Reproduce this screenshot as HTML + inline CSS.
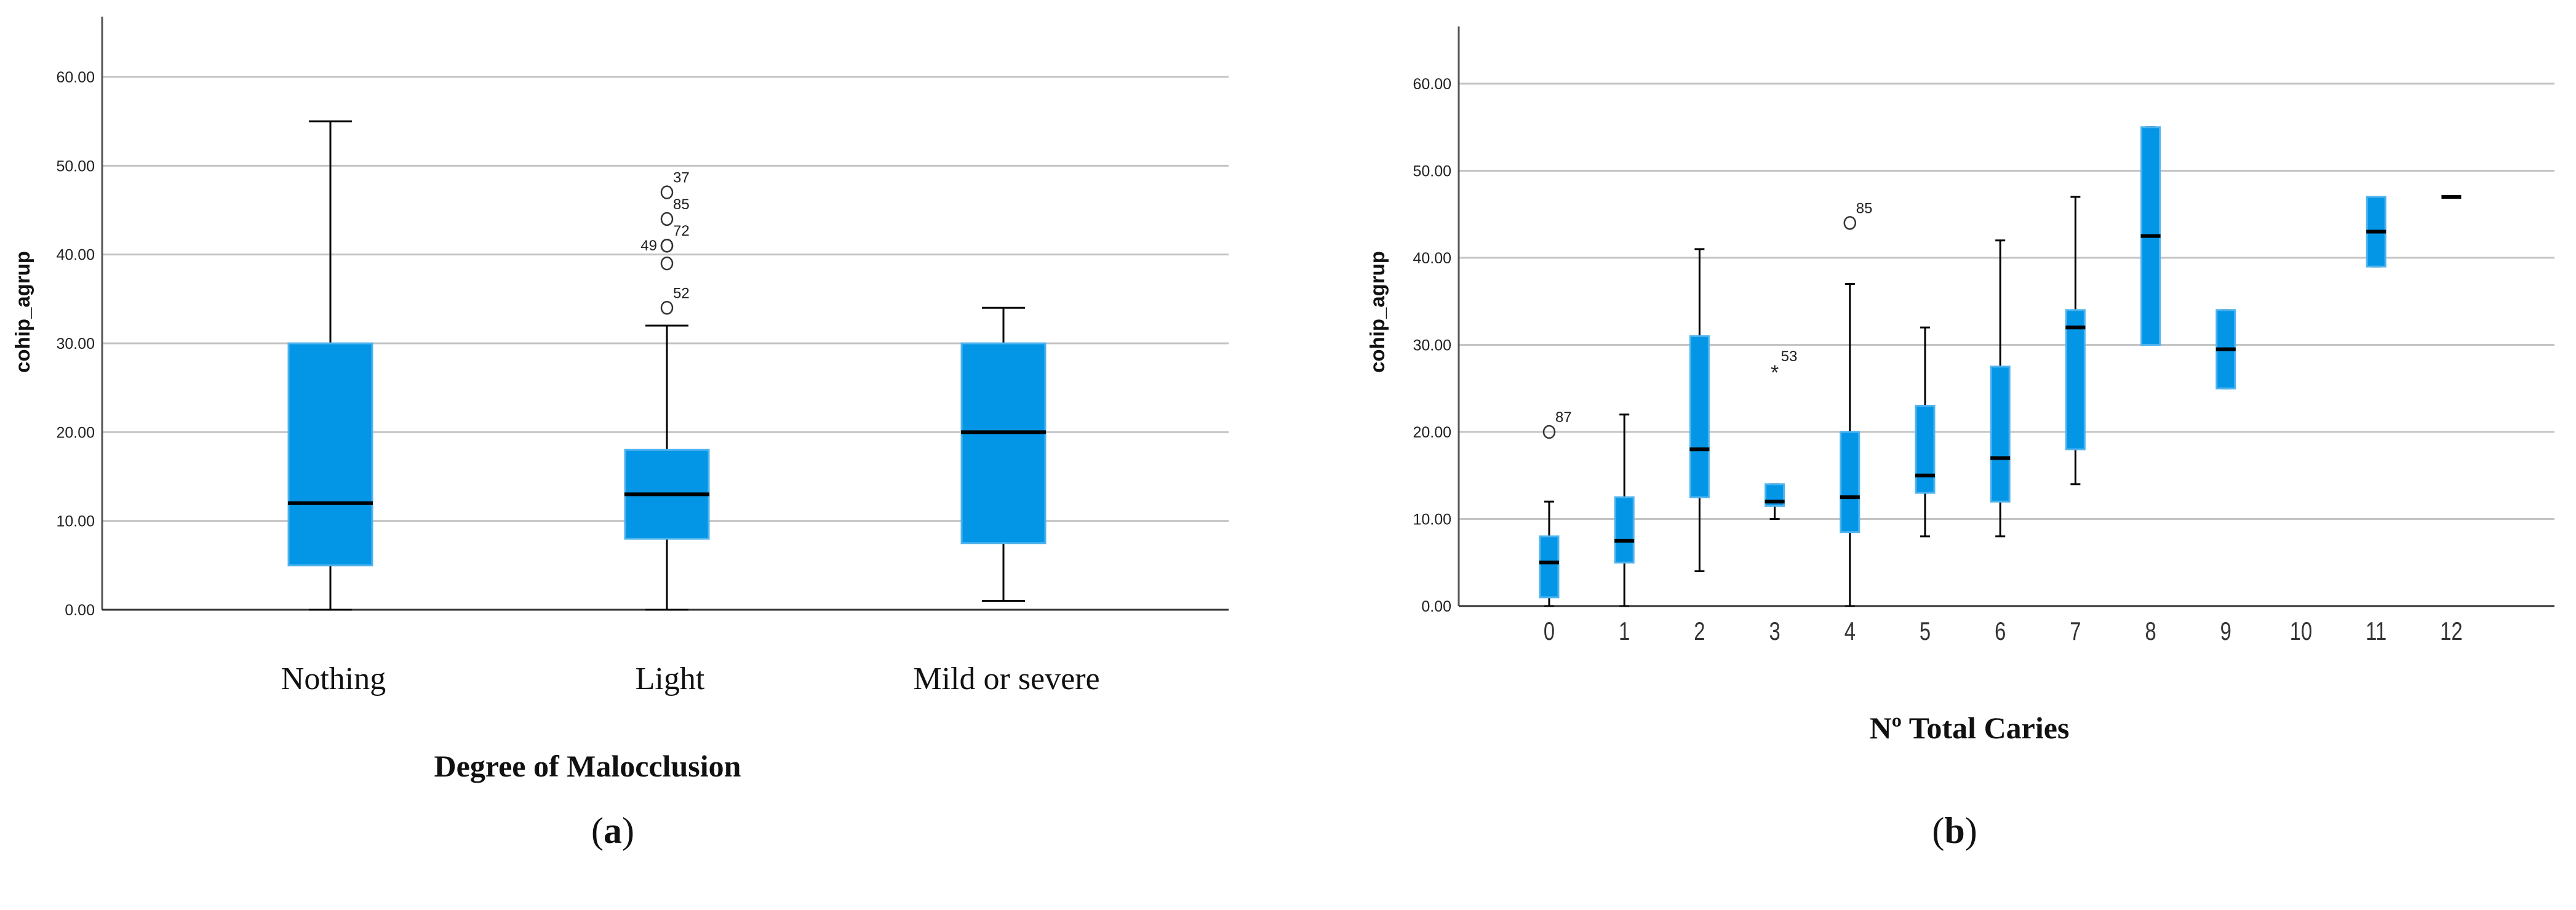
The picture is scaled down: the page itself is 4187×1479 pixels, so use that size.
<!DOCTYPE html>
<html><head><meta charset="utf-8">
<style>
html,body{margin:0;padding:0;background:#fff;}
svg{display:block;}
</style></head>
<body>
<svg id="fig" width="4187" height="1479" viewBox="0 0 4187 1479" xmlns="http://www.w3.org/2000/svg"></svg>
<script>
// ---- Panel (a) data ----
const aCats = ["Nothing", "Light", "Mild or severe"];
const aMin = [0, 0, 1];
const aQ1 = [5, 8, 7.5];
const aMed = [12, 13, 20];
const aQ3 = [30, 18, 30];
const aMax = [55, 32, 34];
const aOutCat = [1, 1, 1, 1, 1, 1];
const aOutVal = [47, 44, 41, 41, 39, 34];
const aOutLbl = ["37", "85", "72", "", "", "52"];
const aTicks = [0, 10, 20, 30, 40, 50, 60];
const aTickLabels = ["0.00", "10.00", "20.00", "30.00", "40.00", "50.00", "60.00"];

// ---- Panel (b) data ----
const bCats = ["0","1","2","3","4","5","6","7","8","9","10","11","12"];
const bMin = [0, 0, 4, 10, 0, 8, 8, 14, 30, 25, null, 39, 47];
const bQ1 = [1, 5, 12.5, 11.5, 8.5, 13, 12, 18, 30, 25, null, 39, 47];
const bMed = [5, 7.5, 18, 12, 12.5, 15, 17, 32, 42.5, 29.5, null, 43, 47];
const bQ3 = [8, 12.5, 31, 14, 20, 23, 27.5, 34, 55, 34, null, 47, 47];
const bMax = [12, 22, 41, 14, 37, 32, 42, 47, 55, 34, null, 47, 47];
const bOutCat = [0, 3, 4];
const bOutVal = [20, 27, 44];
const bOutLbl = ["87", "53", "85"];
const bOutSym = ["o", "*", "o"];
const bTicks = [0, 10, 20, 30, 40, 50, 60];
const bTickLabels = ["0.00", "10.00", "20.00", "30.00", "40.00", "50.00", "60.00"];

const svg = document.getElementById('fig');
const NS = "http://www.w3.org/2000/svg";
function mk(tag, attrs, parent) {
  const e = document.createElementNS(NS, tag);
  for (const k in attrs) e.setAttribute(k, attrs[k]);
  (parent || svg).appendChild(e);
  return e;
}
function txt(s, attrs, parent) { const t = mk('text', attrs, parent); t.textContent = s; return t; }

function panel(cfg) {
  const g = mk('g', {});
  
  
  const y = v => cfg.y0 + (v / 60) * (cfg.y60 - cfg.y0);
  const x = i => cfg.xFirst + i * cfg.xStep;
  // gridlines
  cfg.ticks.forEach((t, i) => {
    if (t > 0) {
      const l = mk('line', {x1: cfg.axX, x2: cfg.axRight, y1: y(t), y2: y(t), stroke: '#c4c4c4', 'stroke-width': 3}, g);
      
      
    }
    const tl = txt(cfg.tickLabels[i], {x: cfg.axX - 12, y: y(t) + 9, 'text-anchor': 'end', 'font-family': 'Liberation Sans, sans-serif', 'font-size': 25, fill: '#222'}, g);
    
    
  });
  // axes
  const ya = mk('line', {x1: cfg.axX, x2: cfg.axX, y1: cfg.axTop, y2: y(0), stroke: '#555', 'stroke-width': 3}, g);
  
  
  const xa = mk('line', {x1: cfg.axX, x2: cfg.axRight, y1: y(0), y2: y(0), stroke: '#333', 'stroke-width': 3}, g);
  
  
  // y title
  const yt = txt('cohip_agrup', {x: 0, y: 0, transform: `translate(${cfg.yTitleX},${cfg.yTitleY}) rotate(-90)`, 'text-anchor': 'middle', 'font-family': 'Liberation Sans, sans-serif', 'font-weight': 'bold', 'font-size': 33, fill: '#111'}, g);
  
  
  // boxes
  cfg.cats.forEach((c, i) => {
    const cx = x(i);
    if (cfg.med[i] !== null) {
      const bg = mk('g', {}, g);
      
      
      mk('line', {x1: cx, x2: cx, y1: y(cfg.min[i]), y2: y(cfg.max[i]), stroke: '#000', 'stroke-width': 3}, bg);
      mk('line', {x1: cx - cfg.cap / 2, x2: cx + cfg.cap / 2, y1: y(cfg.max[i]), y2: y(cfg.max[i]), stroke: '#000', 'stroke-width': 3}, bg);
      mk('line', {x1: cx - cfg.cap / 2, x2: cx + cfg.cap / 2, y1: y(cfg.min[i]), y2: y(cfg.min[i]), stroke: '#000', 'stroke-width': 3}, bg);
      const h = Math.max(y(cfg.q1[i]) - y(cfg.q3[i]), 0.01);
      if (h > 1) mk('rect', {x: cx - cfg.bw / 2, y: y(cfg.q3[i]), width: cfg.bw, height: h, fill: '#0496e6', stroke: '#4fb3ee', 'stroke-width': 3}, bg);
      mk('line', {x1: cx - cfg.bw / 2 - 1, x2: cx + cfg.bw / 2 + 1, y1: y(cfg.med[i]), y2: y(cfg.med[i]), stroke: '#000', 'stroke-width': cfg.medW}, bg);
    }
    const cl = txt(c, cfg.catStyle(cx), g);
    
    
  });
  // outliers
  cfg.outCat.forEach((ci, k) => {
    const cx = x(ci), cy = y(cfg.outVal[k]);
    const og = mk('g', {}, g);
    
    
    if (cfg.outSym && cfg.outSym[k] === '*') {
      txt('*', {x: cx, y: cy + 14, 'text-anchor': 'middle', 'font-family': 'Liberation Sans, sans-serif', 'font-size': 34, fill: '#222'}, og);
    } else {
      mk('ellipse', {cx: cx, cy: cy, rx: 9, ry: 10, fill: 'none', stroke: '#333', 'stroke-width': 2.5}, og);
    }
    if (cfg.outLbl[k]) txt(cfg.outLbl[k], {x: cx + 10, y: cy - 16, 'font-family': 'Liberation Sans, sans-serif', 'font-size': 24, fill: '#222'}, og);
  });
  if (cfg.extra) cfg.extra(g, x, y);
}

panel({
  name: 'chart-a', cats: aCats, min: aMin, q1: aQ1, med: aMed, q3: aQ3, max: aMax,
  outCat: aOutCat, outVal: aOutVal, outLbl: aOutLbl, ticks: aTicks, tickLabels: aTickLabels,
  y0: 991, y60: 125, axX: 166, axTop: 27, axRight: 1997,
  xFirst: 537, xStep: 547, bw: 136, cap: 70, medW: 6,
  yTitleX: 48, yTitleY: 507,
  catStyle: cx => ({x: cx + 5, y: 1120, 'text-anchor': 'middle', 'font-family': 'Liberation Serif, serif', 'font-size': 52, fill: '#111'}),
  extra: (g, x, y) => {
    const t = txt('49', {x: x(1) - 16, y: y(41) + 8, 'text-anchor': 'end', 'font-family': 'Liberation Sans, sans-serif', 'font-size': 24, fill: '#222'}, g);
    
    
  }
});

panel({
  name: 'chart-b', cats: bCats, min: bMin, q1: bQ1, med: bMed, q3: bQ3, max: bMax,
  outCat: bOutCat, outVal: bOutVal, outLbl: bOutLbl, outSym: bOutSym, ticks: bTicks, tickLabels: bTickLabels,
  y0: 985, y60: 136, axX: 2371, axTop: 43, axRight: 4152,
  xFirst: 2518, xStep: 122.2, bw: 30, cap: 16, medW: 6,
  yTitleX: 2250, yTitleY: 507,
  catStyle: cx => ({x: cx, y: 1040, 'text-anchor': 'middle', 'font-family': 'Liberation Sans, sans-serif', 'font-size': 42, fill: '#333', transform: `translate(${cx},0) scale(0.78,1) translate(${-cx},0)`})
});

// clipped sub-label in chart b
const clip = mk('clipPath', {id: 'cb'});
mk('rect', {x: 2900, y: 1040, width: 500, height: 45}, clip);
const cut = txt('Caries total', {x: 3201, y: 1112, 'text-anchor': 'middle', 'font-family': 'Liberation Sans, sans-serif', 'font-weight': 'bold', 'font-size': 36, fill: '#111', 'clip-path': 'url(#cb)'});



const t1 = txt('Degree of Malocclusion', {x: 955, y: 1262, 'text-anchor': 'middle', 'font-family': 'Liberation Serif, serif', 'font-weight': 'bold', 'font-size': 50, fill: '#111'});


const t2 = txt('Nº Total Caries', {x: 3201, y: 1200, 'text-anchor': 'middle', 'font-family': 'Liberation Serif, serif', 'font-weight': 'bold', 'font-size': 50, fill: '#111'});


const c1 = mk('text', {x: 996, y: 1370, 'text-anchor': 'middle', 'font-family': 'Liberation Serif, serif', 'font-size': 60, fill: '#111'});
c1.innerHTML = '(<tspan font-weight="bold">a</tspan>)';


const c2 = mk('text', {x: 3177, y: 1370, 'text-anchor': 'middle', 'font-family': 'Liberation Serif, serif', 'font-size': 60, fill: '#111'});
c2.innerHTML = '(<tspan font-weight="bold">b</tspan>)';


</script>
</body></html>
